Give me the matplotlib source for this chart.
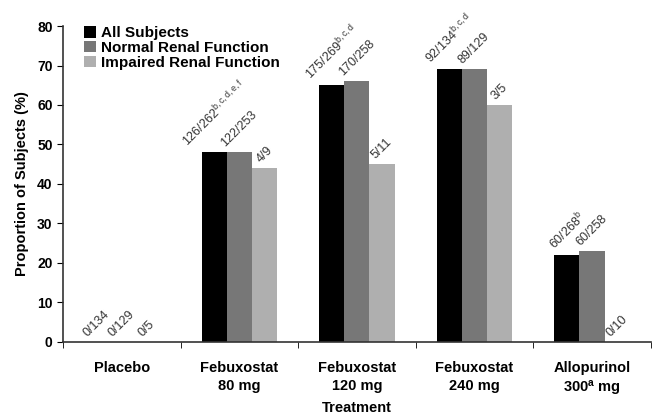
import matplotlib.pyplot as plt
import numpy as np

plt.rcParams['font.family'] = ['Liberation Sans', 'DejaVu Sans']
plt.rcParams['mathtext.default'] = 'regular'

# данные
categories = ['Placebo', 'Febuxostat\n80 mg', 'Febuxostat\n120 mg', 'Febuxostat\n240 mg',
              'Allopurinol\n300$^{a}$ mg']
series = ['All Subjects', 'Normal Renal Function', 'Impaired Renal Function']
all_subj = [0, 48, 65, 69, 22]
normal = [0, 48, 66, 69, 23]
impaired = [0, 44, 45, 60, 0]
lab_all = ['0/134', '126/262$^{b,c,d,e,f}$', '175/269$^{b,c,d}$', '92/134$^{b,c,d}$', '60/268$^{b}$']
lab_normal = ['0/129', '122/253', '170/258', '89/129', '60/258']
lab_impaired = ['0/5', '4/9', '5/11', '3/5', '0/10']

colors = ['#000000', '#777777', '#afafaf']

fig = plt.figure(figsize=(6.53, 4.2), dpi=100)
ax = fig.add_axes([0.0965, 0.186, 0.9, 0.752])

x = np.arange(len(categories))
w = 0.214
for i, (vals, labs) in enumerate(zip([all_subj, normal, impaired],
                                      [lab_all, lab_normal, lab_impaired])):
    xs = x + (i - 1) * w
    ax.bar(xs, vals, width=w, color=colors[i], label=series[i])
    for xi, v, t in zip(xs, vals, labs):
        ax.text(xi, v + 0.8, t, rotation=45, ha='center', va='bottom',
                fontsize=9, color='#333333')

ax.set_xlim(-0.5, 4.5)
ax.set_ylim(0, 80)
ax.set_yticks(range(0, 81, 10))
ax.set_xticks(x)
ax.set_xticklabels(categories, fontweight='bold', fontsize=10.5, linespacing=1.3)
ax.set_xticks(np.arange(-0.5, 4.6, 1), minor=True)
ax.tick_params(axis='x', which='major', length=0, pad=14)
ax.tick_params(axis='x', which='minor', length=4, direction='out')
ax.tick_params(axis='y', length=4, labelsize=10)
for t in ax.get_yticklabels():
    t.set_fontweight('bold')
for s in ['top', 'right']:
    ax.spines[s].set_visible(False)
for s in ['left', 'bottom']:
    ax.spines[s].set_color('#333333')
    ax.spines[s].set_linewidth(1.2)

ax.set_ylabel('Proportion of Subjects (%)', fontweight='bold', fontsize=10.5, labelpad=6)
ax.set_xlabel('Treatment', fontweight='bold', fontsize=10.5, labelpad=2)

leg = ax.legend(loc='upper left', bbox_to_anchor=(0.025, 1.02), frameon=False,
                handlelength=0.8, handleheight=0.8, handletextpad=0.3,
                labelspacing=0.05, borderaxespad=0,
                prop={'weight': 'bold', 'size': 11})

plt.savefig('out.png', dpi=100)
